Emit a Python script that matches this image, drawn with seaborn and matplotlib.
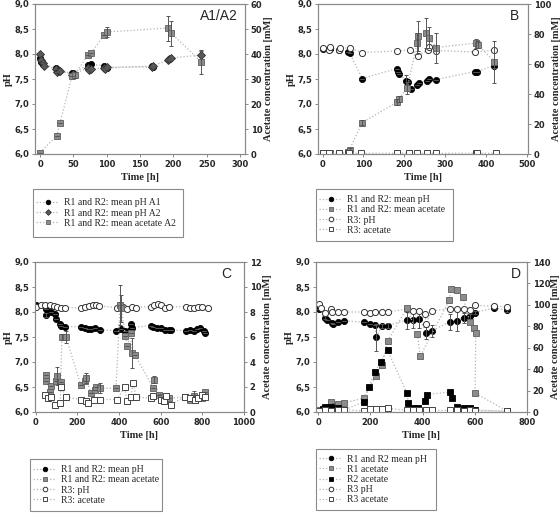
import matplotlib
matplotlib.use("Agg")
import matplotlib.pyplot as plt
from matplotlib.lines import Line2D
from matplotlib.patches import Rectangle
from matplotlib.ticker import FuncFormatter, MultipleLocator
import seaborn as sns

# ---------------- panel A1/A2 ----------------
a1_t = [0, 2, 4, 24, 26, 28, 48, 50, 72, 74, 76, 96, 98, 100, 168, 170]
a1_ph = [7.92, 7.85, 7.80, 7.72, 7.68, 7.66, 7.62, 7.62, 7.78, 7.75, 7.80, 7.76, 7.74, 7.72, 7.76, 7.75]
a2_t = [0, 2, 4, 6, 24, 26, 28, 30, 48, 50, 72, 74, 76, 96, 98, 100, 168, 170, 192, 194, 196, 242]
a2_ph = [8.00, 7.88, 7.82, 7.76, 7.70, 7.64, 7.66, 7.67, 7.58, 7.60, 7.72, 7.68, 7.70, 7.72, 7.70, 7.74,
         7.74, 7.76, 7.88, 7.90, 7.92, 7.98]
a2_ph_err = [0] * 21 + [0.07]
a2_ac_t = [0, 25, 30, 48, 52, 72, 77, 96, 100, 192, 197, 242]
a2_ac = [0.6, 7.2, 12.3, 31.2, 31.8, 39.6, 40.5, 47.6, 48.8, 50.4, 48.3, 36.8]
a2_ac_err = [0, 0, 0, 0, 1.2, 0, 0, 0, 2.0, 5.0, 5.0, 4.8]

# ---------------- panel B ----------------
b_t = [0, 18, 40, 62, 66, 97, 182, 185, 188, 205, 208, 215, 230, 235, 255, 260, 278, 372, 378, 420]
b_ph = [8.11, 8.10, 8.08, 8.04, 8.02, 7.51, 7.71, 7.64, 7.60, 7.46, 7.45, 7.30, 7.39, 7.42, 7.47,
        7.50, 7.49, 7.65, 7.65, 7.77]
b_ph_err = [0] * 9 + [0.12] + [0] * 9 + [0.05]
b_ac_t = [0, 18, 40, 62, 66, 97, 182, 186, 207, 231, 234, 253, 259, 278, 375, 379, 420]
b_ac = [0.5, 0.5, 0.5, 1.5, 3.0, 21, 34.5, 36.5, 44, 74, 79, 81, 77.5, 71, 74, 73, 61.5]
b_ac_err = [0, 0, 0, 1, 1, 1.5, 2, 2, 4, 7, 10, 10, 7, 10, 3, 2.5, 14]
b3_t = [0, 15, 18, 40, 43, 66, 97, 182, 214, 233, 257, 260, 278, 372, 420]
b3_ph = [8.12, 8.08, 8.14, 8.08, 8.12, 8.12, 8.03, 8.06, 8.08, 7.97, 8.08, 8.14, 8.07, 8.04, 8.08]
b3_ac_t = [0, 17, 40, 62, 64, 94, 182, 212, 232, 255, 277, 375, 378, 424]
b3_ac = [0.5, 0.6, 0.5, 0.7, 0.6, 0.5, 0.5, 0.6, 0.5, 0.5, 0.5, 0.5, 0.5, 0.5]

# ---------------- panel C ----------------
c_t = [0, 47, 50, 75, 90, 95, 115, 120, 140, 215, 235, 250, 265, 285, 310, 385, 410, 430, 450, 455,
       460, 555, 565, 580, 600, 620, 640, 650, 720, 740, 760, 775, 790, 810, 815]
c_ph = [8.15, 8.06, 7.95, 8.00, 7.96, 7.86, 7.77, 7.73, 7.71, 7.70, 7.68, 7.66, 7.67, 7.68, 7.64,
        7.63, 7.66, 7.62, 7.64, 7.76, 7.69, 7.73, 7.70, 7.68, 7.69, 7.65, 7.65, 7.64, 7.63, 7.64,
        7.63, 7.66, 7.68, 7.62, 7.58]
c_ph_err = [0, 0, 0.04] + [0] * 32
c_ac_t = [47, 50, 70, 75, 95, 100, 120, 125, 145, 215, 235, 240, 265, 285, 290, 310, 385, 405, 410,
          430, 440, 455, 460, 475, 565, 570, 590, 600, 620, 640, 715, 740, 760, 780, 800, 815]
c_ac = [3.0, 2.5, 1.6, 2.1, 2.5, 2.9, 2.4, 6.0, 6.0, 2.2, 2.5, 2.7, 1.5, 1.8, 2.0, 1.9, 1.9, 8.6,
        8.3, 6.1, 5.3, 6.3, 4.7, 4.6, 1.9, 2.6, 1.4, 1.2, 1.0, 1.1, 1.2, 1.0, 1.3, 1.1, 1.1, 1.6]
c_ac_err = [0, 0, 0, 0, 0, 0.7, 0, 0.25, 0.5, 0, 0, 0.4, 0, 0, 0, 0.4, 0, 1.6, 1.1, 0, 0, 0, 1.2,
            0, 0, 0.3, 0, 0, 0.3, 0, 0, 0, 0.35, 0, 0, 0]
c3_t = [0, 25, 45, 70, 85, 100, 120, 140, 215, 235, 255, 275, 290, 305, 390, 405, 420, 440, 460,
        480, 555, 570, 585, 600, 620, 640, 720, 740, 760, 780, 800, 825]
c3_ph = [8.10, 8.13, 8.14, 8.15, 8.12, 8.10, 8.09, 8.09, 8.08, 8.10, 8.12, 8.13, 8.14, 8.12, 8.09,
         8.15, 8.10, 8.07, 8.11, 8.09, 8.11, 8.15, 8.16, 8.13, 8.09, 8.10, 8.11, 8.08, 8.09, 8.10,
         8.10, 8.08]
c3_ac_t = [42, 60, 75, 93, 116, 121, 144, 215, 243, 250, 278, 309, 391, 427, 438, 458, 466, 482,
           553, 565, 600, 615, 623, 647, 717, 741, 765, 780, 800, 812]
c3_ac = [1.4, 1.1, 1.2, 0.6, 0.7, 2.0, 1.2, 1.0, 0.9, 0.7, 1.0, 1.0, 1.0, 2.0, 0.9, 1.2, 2.3, 1.2,
         1.1, 1.3, 1.0, 0.9, 1.3, 0.6, 1.2, 1.1, 1.0, 1.1, 1.4, 1.2]

# ---------------- panel D ----------------
d_t = [5, 27, 33, 52, 56, 78, 100, 174, 197, 218, 222, 244, 266, 340, 365, 388, 414, 435, 506,
       531, 557, 580, 601, 672, 723]
d_ph = [8.06, 7.89, 7.85, 7.78, 7.76, 7.80, 7.82, 7.80, 7.77, 7.75, 7.50, 7.72, 7.73, 7.84, 7.84,
        7.86, 7.59, 7.62, 7.81, 7.83, 7.89, 7.92, 7.99, 8.08, 8.04]
d_ph_err = [0, 0.03, 0, 0, 0, 0, 0, 0, 0, 0, 0.27, 0.04, 0.05, 0.17, 0.15, 0.18, 0.12, 0.12, 0.16,
            0.2, 0.1, 0.05, 0.03, 0.02, 0.03]
d_r1_t = [5, 28, 50, 66, 78, 100, 174, 222, 244, 266, 340, 380, 391, 503, 508, 531, 554, 582, 598,
          604, 601, 723]
d_r1 = [1.5, 3, 9.4, 6, 7.8, 8.4, 13, 34, 44, 66, 97, 73, 52, 104.5, 115, 114, 107.6, 83.6, 78.6,
        74, 17.8, 1]
d_r2_t = [20, 27, 50, 78, 100, 174, 194, 218, 240, 266, 340, 346, 365, 384, 410, 416, 506, 512,
          531, 557, 582, 601, 723]
d_r2 = [3, 4.7, 4.7, 3.3, 2, 9.4, 23.4, 37.4, 46.8, 57.7, 17.8, 8.4, 4.1, 3.4, 10.3, 16.3, 18.7,
        13.5, 4.7, 3.8, 3.4, 2, 0.5]
d3_t = [5, 10, 27, 50, 55, 78, 100, 174, 197, 218, 244, 266, 340, 365, 388, 410, 414, 435, 506,
        531, 557, 580, 601, 672, 723]
d3_ph = [8.16, 8.09, 7.99, 8.06, 8.00, 8.00, 8.00, 8.00, 7.99, 8.00, 8.00, 8.00, 8.06, 8.03, 8.03,
         7.97, 7.77, 8.02, 8.07, 8.07, 8.05, 8.04, 8.13, 8.12, 8.10]
d3_ac_t = [5, 27, 50, 78, 100, 174, 197, 222, 244, 266, 340, 365, 388, 414, 435, 506, 531, 557,
           580, 601, 723]
d3_ac = [1, 1.5, 1, 1.5, 2, 1, 2.5, 3, 3, 3.5, 1.5, 1.5, 2, 1.5, 1.5, 1.5, 2, 1, 1.5, 1, 1]

# ---------------- styling ----------------
sns.set_style("white")
plt.rcParams['font.family'] = ['DejaVu Sans']
plt.rcParams['font.weight'] = 'bold'

W, H = 560, 513
DOT = '#b4b4b4'
FRAME = '#8a8a8a'
SERIF = 'Liberation Serif'

black_circ = dict(marker='o', markersize=4.4, markerfacecolor='black', markeredgecolor='black', markeredgewidth=0.6)
black_sq = dict(marker='s', markersize=3.8, markerfacecolor='black', markeredgecolor='black', markeredgewidth=0.6)
gray_sq = dict(marker='s', markersize=3.8, markerfacecolor='#8c8c8c', markeredgecolor='#5e5e5e', markeredgewidth=0.6)
open_circ = dict(marker='o', markersize=4.4, markerfacecolor='white', markeredgecolor='#333333', markeredgewidth=0.7)
open_sq = dict(marker='s', markersize=3.8, markerfacecolor='white', markeredgecolor='#444444', markeredgewidth=0.7)
diamond = dict(marker='D', markersize=3.9, markerfacecolor='#5a5a5a', markeredgecolor='#303030', markeredgewidth=0.6)

fig = plt.figure(figsize=(W / 100, H / 100), dpi=100)


def panel(left, top, right, bottom):
    return fig.add_axes([left / W, 1 - bottom / H, (right - left) / W, (bottom - top) / H])


def series(ax, t, y, mk, err=None):
    sns.lineplot(x=t, y=y, ax=ax, estimator=None, sort=False, color=DOT,
                 linestyle=':', linewidth=0.9, **mk)
    if err is not None:
        ax.errorbar(t, y, yerr=err, fmt='none', ecolor='#555555', elinewidth=0.7,
                    capsize=1.6, capthick=0.7)


def frame(ax, ax2, xlim, xstep, ymax, ystep, tag, tag_x):
    ax.set_xlim(*xlim)
    ax.set_ylim(6.0, 9.0)
    ax2.set_ylim(0, ymax)
    ax.xaxis.set_major_locator(MultipleLocator(xstep))
    ax.yaxis.set_major_locator(MultipleLocator(0.5))
    ax2.yaxis.set_major_locator(MultipleLocator(ystep))
    ax.yaxis.set_major_formatter(FuncFormatter(lambda v, _: f"{v:.1f}".replace('.', ',')))
    for a in (ax, ax2):
        for s in a.spines.values():
            s.set_color(FRAME)
            s.set_linewidth(0.8)
        a.tick_params(direction='out', length=2.5, width=0.7, color=FRAME, labelsize=6, pad=1.5)
    ax.tick_params(right=False, top=False, left=True, bottom=True)
    ax2.tick_params(right=True, left=False, bottom=False, top=False)
    ax.set_xlabel("Time [h]", family=SERIF, fontsize=7.5, fontweight='bold', labelpad=3)
    ax.set_ylabel("pH", family=SERIF, fontsize=7.5, fontweight='bold', labelpad=1)
    ax2.set_ylabel("Acetate concentration [mM]", family=SERIF, fontsize=7.5, fontweight='bold', labelpad=1)
    ax.text(tag_x, 0.92, tag, transform=ax.transAxes, ha='right', va='center',
            fontsize=10, fontweight='normal', family='Liberation Sans')


def legend_box(entries, x0, y0, x1, y1):
    fig.add_artist(Rectangle((x0 / W, 1 - y1 / H), (x1 - x0) / W, (y1 - y0) / H,
                             transform=fig.transFigure, fill=False, edgecolor=FRAME, linewidth=0.8))
    handles = [Line2D([0], [0], color=DOT, linestyle=':', linewidth=0.9,
                      **{**mk, 'markersize': mk['markersize'] * 0.75}) for _, mk in entries]
    labels = [lab for lab, _ in entries]
    fig.legend(handles, labels, loc='center left', bbox_to_anchor=((x0 + 3) / W, 1 - (y0 + y1) / 2 / H),
               frameon=False, borderpad=0, borderaxespad=0, handlelength=2.4, handletextpad=0.5,
               labelspacing=0.12, prop=dict(family=SERIF, size=7, weight='normal'))


# A1/A2
ax = panel(35, 4, 245, 154)
ax2 = ax.twinx()
series(ax, a1_t, a1_ph, black_circ)
series(ax, a2_t, a2_ph, diamond, a2_ph_err)
series(ax2, a2_ac_t, a2_ac, gray_sq, a2_ac_err)
frame(ax, ax2, (-7.5, 307.5), 50, 60, 10, "A1/A2", 0.967)
legend_box([("R1 and R2: mean pH A1", black_circ),
            ("R1 and R2: mean pH A2", diamond),
            ("R1 and R2: mean acetate A2", gray_sq)], 33, 189, 183, 237)

# B
ax = panel(318, 4, 528, 154)
ax2 = ax.twinx()
series(ax, b_t, b_ph, black_circ, b_ph_err)
series(ax, b3_t, b3_ph, open_circ)
series(ax2, b_ac_t, b_ac, gray_sq, b_ac_err)
series(ax2, b3_ac_t, b3_ac, open_sq)
frame(ax, ax2, (-11, 502), 100, 100, 20, "B", 0.957)
legend_box([("R1 and R2: mean pH", black_circ),
            ("R1 and R2: mean acetate", gray_sq),
            ("R3: pH", open_circ),
            ("R3: acetate", open_sq)], 316, 189, 453, 241)

# C
ax = panel(35, 262, 244, 412)
ax2 = ax.twinx()
series(ax, c_t, c_ph, black_circ, c_ph_err)
series(ax, c3_t, c3_ph, open_circ)
series(ax2, c_ac_t, c_ac, gray_sq, c_ac_err)
series(ax2, c3_ac_t, c3_ac, open_sq)
frame(ax, ax2, (-4, 1000), 200, 12, 2, "C", 0.94)
legend_box([("R1 and R2: mean pH", black_circ),
            ("R1 and R2: mean acetate", gray_sq),
            ("R3: pH", open_circ),
            ("R3: acetate", open_sq)], 30, 459, 162, 511)

# D
ax = panel(316, 262, 527, 412)
ax2 = ax.twinx()
series(ax, d_t, d_ph, black_circ, d_ph_err)
series(ax, d3_t, d3_ph, open_circ)
series(ax2, d_r1_t, d_r1, gray_sq)
series(ax2, d_r2_t, d_r2, black_sq)
series(ax2, d3_ac_t, d3_ac, open_sq)
frame(ax, ax2, (-8, 800), 200, 140, 20, "D", 0.97)
legend_box([("R1 and R2 mean pH", black_circ),
            ("R1 acetate", gray_sq),
            ("R2 acetate", black_sq),
            ("R3 pH", open_circ),
            ("R3 acetate", open_sq)], 316, 449, 436, 510)

fig.savefig("out.png", dpi=100)
